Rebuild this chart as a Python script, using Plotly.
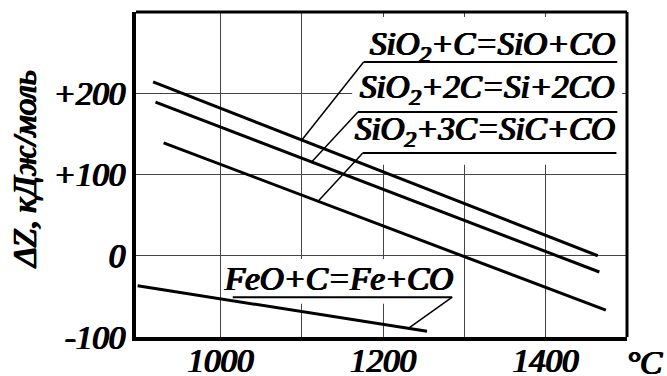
import numpy as np
import plotly.graph_objects as go

# ---- data (temperature, °C ; ΔZ, kJ/mol) ----
t_sio = [917, 1464]
z_sio = [214, 0]
t_si = [920, 1466]
z_si = [189, -20]
t_sic = [930, 1474]
z_sic = [139, -67]
t_fe = [898, 1254]
z_fe = [-37, -93]

series = [(t_sio, z_sio), (t_si, z_si), (t_sic, z_sic), (t_fe, z_fe)]
labels = ["SiO<sub>2</sub>+C=SiO+CO", "SiO<sub>2</sub>+2C=Si+2CO",
          "SiO<sub>2</sub>+3C=SiC+CO", "FeO+C=Fe+CO"]

x_tickvals = [1000, 1100, 1200, 1300, 1400]
x_ticktext = ["1000", "", "1200", "", "1400"]
y_tickvals = [-100, 0, 100, 200]
y_ticktext = ["-100", "0", "+100", "+200"]

# label layout: text right x, text y, underline y, underline x0, x1, leader target x, leader end
label_pos = [
    dict(tx=1488, ty=258, uy=238.5, ux0=1176, ux1=1488, lx=1100, end="left"),
    dict(tx=1488, ty=205, uy=177, ux0=1169, ux1=1488, lx=1112, end="left"),
    dict(tx=1488, ty=153, uy=126.5, ux0=1175, ux1=1487, lx=1120, end="left"),
    dict(tx=1289, ty=-29, uy=-51, ux0=1015, ux1=1285, lx=1231, end="right"),
]

FONT = "Liberation Serif"
BOLD = "0.9px 0 0 black, -0.9px 0 0 black, 0 0.4px 0 black"


def f(size=33, bold=True):
    return dict(family=FONT, size=size, color="black", weight="normal", style="italic",
                shadow=BOLD if bold else "none")


fig = go.Figure()

for (t, z) in series:
    fig.add_trace(go.Scatter(x=t, y=z, mode="lines",
                             line=dict(color="black", width=3),
                             showlegend=False, hoverinfo="skip"))

shapes = []
# white masks that hide grid lines behind the labels
shapes.append(dict(type="rect", xref="x", yref="y", x0=1162, x1=1494, y0=112, y1=294,
                   fillcolor="white", line=dict(width=0), layer="between"))
shapes.append(dict(type="rect", xref="x", yref="y", x0=1005, x1=1295, y0=-59, y1=-4,
                   fillcolor="white", line=dict(width=0), layer="between"))

annotations = []
for (t, z), lab, p in zip(series, labels, label_pos):
    annotations.append(dict(x=p["tx"], y=p["ty"], xref="x", yref="y", text=lab,
                            showarrow=False, xanchor="right", yanchor="middle",
                            font=f()))
    shapes.append(dict(type="line", xref="x", yref="y", x0=p["ux0"], x1=p["ux1"],
                       y0=p["uy"], y1=p["uy"], line=dict(color="black", width=2)))
    ly = float(np.interp(p["lx"], t, z))
    sx = p["ux0"] if p["end"] == "left" else p["ux1"]
    shapes.append(dict(type="line", xref="x", yref="y", x0=sx, y0=p["uy"],
                       x1=p["lx"], y1=ly, line=dict(color="black", width=1.5)))

# top and right frame
shapes.append(dict(type="line", xref="paper", yref="paper", x0=0, x1=1, y0=1, y1=1,
                   line=dict(color="black", width=3)))
shapes.append(dict(type="line", xref="paper", yref="paper", x0=1, x1=1, y0=0, y1=1,
                   line=dict(color="black", width=3)))

annotations.append(dict(x=1.037, y=-0.08, xref="paper", yref="paper", text="°C",
                        showarrow=False, xanchor="center", yanchor="middle",
                        font=f()))
annotations.append(dict(x=-0.226, y=0.514, xref="paper", yref="paper",
                        text="ΔZ, кДж/моль", textangle=-90,
                        showarrow=False, xanchor="center", yanchor="middle",
                        font=f()))

fig.update_layout(
    width=667, height=376,
    margin=dict(l=136, r=40, t=12, b=39, autoexpand=False),
    paper_bgcolor="white", plot_bgcolor="white",
    font=dict(family=FONT),
    shapes=shapes, annotations=annotations,
    xaxis=dict(range=[896, 1500], tickvals=x_tickvals, ticktext=x_ticktext,
               automargin=False, ticklabelstandoff=-9,
               showgrid=True, gridcolor="#444", gridwidth=1, zeroline=False,
               showline=True, linecolor="black", linewidth=4, ticks="",
               tickfont=f()),
    yaxis=dict(range=[-100, 300], tickvals=y_tickvals, ticktext=y_ticktext,
               automargin=False,
               showgrid=True, gridcolor="#444", gridwidth=1, zeroline=False,
               showline=True, linecolor="black", linewidth=4, ticks="",
               tickfont=f()),
)

fig.write_html("out.html")
